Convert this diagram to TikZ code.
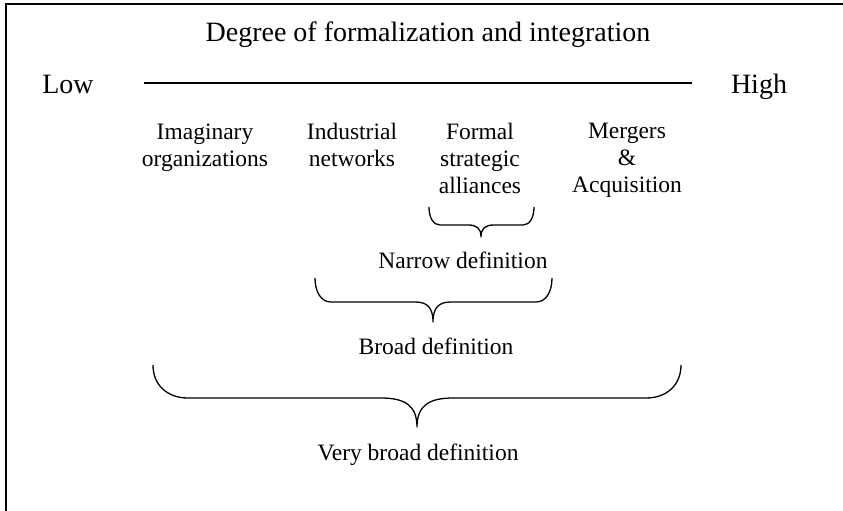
\documentclass[tikz,border=0pt]{standalone}
\usepackage{fontspec}
\setmainfont{Liberation Serif}
\newcommand{\curlyb}[8]{% x1, x2, ytop, yh, xm, ytip, r, c
  \draw[bracel] (#1,#3) .. controls (#1,{#3+0.6*(#4-#3)}) and ({#1+0.4*#7},#4) .. ({#1+#7},#4)
    -- ({#5-#8},#4) .. controls ({#5-0.35*#8},#4) and (#5,{#4+0.25*(#6-#4)}) .. (#5,#6)
    .. controls (#5,{#4+0.25*(#6-#4)}) and ({#5+0.35*#8},#4) .. ({#5+#8},#4)
    -- ({#2-#7},#4) .. controls ({#2-0.4*#7},#4) and (#2,{#3+0.6*(#4-#3)}) .. (#2,#3);}
\begin{document}
\begin{tikzpicture}[x=1pt,y=-1pt,
  title/.style={font=\fontsize{28}{32}\selectfont, anchor=base},
  lbl/.style={font=\fontsize{23.5}{27}\selectfont, anchor=base},
  item/.style={font=\fontsize{23.5}{27}\selectfont, align=center, anchor=north},
  bracel/.style={line width=1.3pt, line join=round},
  frame/.style={line width=2pt}]
\useasboundingbox (0,0) rectangle (843,511);
\fill[white] (0,0) rectangle (843,511);
\draw[frame] (6,511) -- (6,4.5) -- (843,4.5);
\node[title] (title) at (428,42) {Degree of formalization and integration};
\node[title] (low) at (68,93) {Low};
\node[title] (high) at (759,93) {High};
\coordinate (axl) at (144,83);
\coordinate (axr) at (692,83);
\draw[line width=1.4pt] (axl) -- (axr);
\node[item] (imag) at (205,120) {Imaginary\\organizations};
\node[item] (indu) at (352,120) {Industrial\\networks};
\node[item] (form) at (480,120) {Formal\\strategic\\alliances};
\node[item] (merg) at (627,120) {Mergers\\\&\\Acquisition};
\curlyb{429}{534}{207}{225}{481}{237}{11}{13}
\node[lbl] (narrow) at (463,268) {Narrow definition};
\curlyb{315}{552}{278}{302}{433}{322}{16}{18}
\node[lbl] (broad) at (436,354) {Broad definition};
\curlyb{153}{681}{365}{398}{417}{427}{35}{36}
\node[lbl] (vbroad) at (418,460) {Very broad definition};
\end{tikzpicture}
\end{document}
